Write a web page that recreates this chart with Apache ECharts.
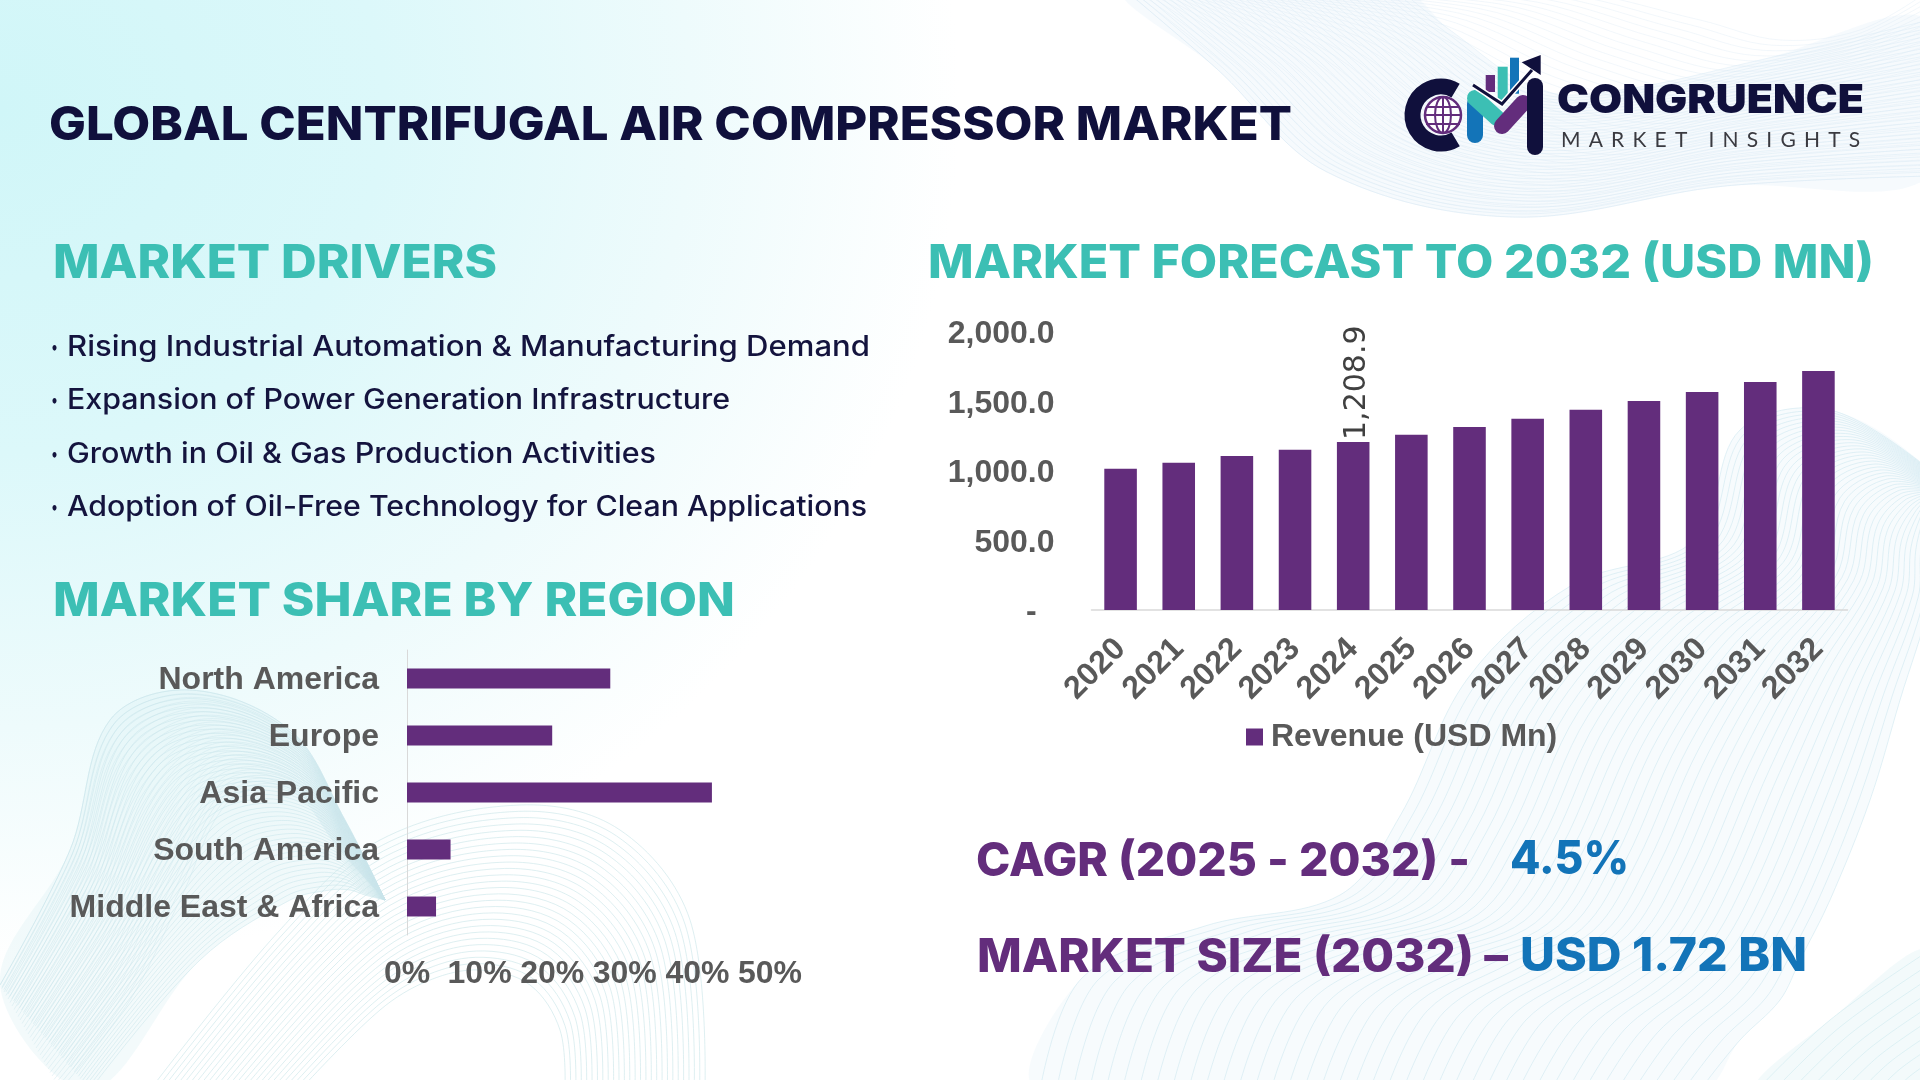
<!DOCTYPE html>
<html lang="en">
<head>
<meta charset="UTF-8" />
<title>Global Centrifugal Air Compressor Market</title>
<script src="https://cdn.jsdelivr.net/npm/echarts@6/dist/echarts.min.js"></script>
<style>
  html, body { margin: 0; padding: 0; width: 1920px; height: 1080px; overflow: hidden; background: #fff; }
  #bg { position: absolute; left: 0; top: 0; width: 1920px; height: 1080px;
    background: radial-gradient(ellipse 960px 860px at 0% 10%, #d0f6f8 0%, #dcf8fa 40%, #eefbfc 72%, rgba(255,255,255,0) 100%); }
  #main { position: absolute; left: 0; top: 0; width: 1920px; height: 1080px; }
  #logoSub { position: absolute; left: 1561px; top: 126px; font: 400 21px Lato, sans-serif; letter-spacing: 8.2px; color: #3a3a40; white-space: nowrap; }
</style>
</head>
<body>
<div id="bg"></div>
<div id="main"></div>
<div id="logoSub">MARKET INSIGHTS</div>
<script>
// chart data
var years = ["2020","2021","2022","2023","2024","2025","2026","2027","2028","2029","2030","2031","2032"];
var revenue = [1016, 1059, 1108, 1152, 1208.9, 1260, 1317, 1376, 1440, 1504, 1569, 1641, 1720];
var labelledYear = "2024";
var regions = ["North America","Europe","Asia Pacific","South America","Middle East & Africa"];
var regionShare = [28, 20, 42, 6, 4];
var drivers = [
  "Rising Industrial Automation & Manufacturing Demand",
  "Expansion of Power Generation Infrastructure",
  "Growth in Oil & Gas Production Activities",
  "Adoption of Oil-Free Technology for Clean Applications"
];

var PURPLE = "#632d7c", TEAL = "#3cbfb4", NAVY = "#10103c", BLUE = "#1374b8", GREY = "#595959";
var HEAD = "Inter";

var measure = document.createElement("canvas").getContext("2d");
var els = [];

// text squeezed or stretched so it runs from x to x2, y is the baseline
function fitText(str, x, x2, y, weight, size, color) {
  var font = weight + " " + size + "px " + HEAD;
  measure.font = font;
  els.push({
    type: "text", x: x, y: y + size * 0.2, scaleX: (x2 - x) / measure.measureText(str).width, z: 5,
    style: { text: str, font: font, fill: color, align: "left", verticalAlign: "bottom", lineHeight: size }
  });
}

// family of lines between two edges of the same length
function ribbon(a, b, n, fill, stroke, fillAlpha, lineAlpha) {
  if (fill) {
    els.push({ type: "polygon", z: 0, silent: true,
      shape: { points: a.concat(b.slice().reverse()), smooth: 0.35 },
      style: { fill: fill, opacity: fillAlpha } });
  }
  for (var i = 0; i <= n; i++) {
    var t = i / n;
    els.push({ type: "polyline", z: 1, silent: true,
      shape: { points: a.map(function (p, k) { return [p[0] + (b[k][0] - p[0]) * t, p[1] + (b[k][1] - p[1]) * t]; }), smooth: 0.35 },
      style: { stroke: stroke, lineWidth: 1, fill: "none", opacity: lineAlpha } });
  }
}

// top right
ribbon([[1125,-10],[1217,69],[1327,172],[1511,217],[1725,186],[1930,176]],
       [[1400,-10],[1450,30],[1540,90],[1620,90],[1760,60],[1930,20]], 40, "#e6f1f9", "#d3e5f2", 0.35, 0.4);
ribbon([[1125,-10],[1217,69],[1327,172],[1511,217],[1725,186],[1930,176]],
       [[1300,-10],[1560,-10],[1700,20],[1780,40],[1860,30],[1930,-10]], 34, null, "#d9e8f4", 0, 0.35);
// bottom left
ribbon([[0,985],[70,850],[110,720],[190,690],[290,730],[345,820],[385,900]],
       [[90,1090],[200,960],[290,900],[330,890],[350,890],[365,895],[385,900]], 46, "#d8edf2", "#c6e3ea", 0.3, 0.5);
ribbon([[0,985],[70,850],[110,720],[190,690],[290,730],[345,820],[385,900]],
       [[60,1090],[130,1000],[180,900],[230,800],[290,790],[340,850],[385,900]], 30, null, "#c9e5ec", 0, 0.45);
ribbon([[150,1090],[280,930],[380,840],[520,805],[620,830],[690,920],[705,1090]],
       [[300,1090],[380,1010],[430,980],[480,970],[530,985],[560,1030],[565,1090]], 26, null, "#cde7ea", 0, 0.65);
// bottom right
ribbon([[1040,1090],[1082,978],[1205,926],[1340,895],[1400,816],[1468,678],[1572,585],[1695,540],[1740,430],[1830,410],[1930,470]],
       [[1700,1090],[1740,1040],[1780,1000],[1800,960],[1830,900],[1870,800],[1900,700],[1930,600],[1930,560],[1930,530],[1930,500]],
       40, "#e8f4f8", "#cfe8f0", 0.35, 0.6);
ribbon([[1757,1090],[1830,1020],[1930,950]], [[1930,1090],[1930,1090],[1930,1090]], 10, "#d6eff3", "#c8e8ee", 0.3, 0.5);

// headings
fitText("GLOBAL CENTRIFUGAL AIR COMPRESSOR MARKET", 49, 1292, 140, 800, 47, NAVY);
fitText("MARKET DRIVERS", 53, 497, 278, 800, 46, TEAL);
fitText("MARKET FORECAST TO 2032 (USD MN)", 928, 1874, 278, 800, 46, TEAL);
fitText("MARKET SHARE BY REGION", 53, 735, 616, 800, 46, TEAL);
var driverEnds = [870, 730, 656, 867], driverBase = [356, 409, 463, 516];
drivers.forEach(function (d, i) {
  fitText("•", 51, 58, driverBase[i] - 3, 500, 18, "#14143e");
  fitText(d, 67, driverEnds[i], driverBase[i], 500, 28, "#14143e");
});
fitText("CAGR (2025 - 2032) -", 976, 1470, 876, 800, 46, PURPLE);
fitText("4.5%", 1510, 1629, 874, 800, 46, BLUE);
fitText("MARKET SIZE (2032) –", 977, 1508, 972, 800, 46, PURPLE);
fitText("USD 1.72 BN", 1520, 1807, 971, 800, 46, BLUE);
fitText("CONGRUENCE", 1557, 1864, 113, 900, 40, NAVY);

// logo
els.push({ type: "arc", z: 4, shape: { cx: 1441, cy: 115, r: 28.5, startAngle: 1.03, endAngle: 5.25, clockwise: true },
  style: { stroke: NAVY, lineWidth: 16, fill: "none" } });
els.push({ type: "circle", z: 4, shape: { cx: 1443, cy: 115, r: 18 }, style: { fill: "#fff", stroke: PURPLE, lineWidth: 2.5 } });
els.push({ type: "ellipse", z: 4, shape: { cx: 1443, cy: 115, rx: 8, ry: 18 }, style: { fill: "none", stroke: PURPLE, lineWidth: 2 } });
[[1426,107,1460,107],[1425,115,1461,115],[1426,124,1460,124],[1443,97,1443,133]].forEach(function (l) {
  els.push({ type: "line", z: 4, shape: { x1: l[0], y1: l[1], x2: l[2], y2: l[3] }, style: { stroke: PURPLE, lineWidth: 2 } });
});
[[1485.7,75,9.3,17,PURPLE],[1497.7,66.7,10,35,TEAL],[1510,57.7,9,36,BLUE]].forEach(function (b) {
  els.push({ type: "rect", z: 4, shape: { x: b[0], y: b[1], width: b[2], height: b[3] }, style: { fill: b[4] } });
});
[[1475,104,1475,135,"#1374b8"],[1475,98,1497,118,TEAL],[1502,126,1523,103,PURPLE],[1535,86,1535,147,NAVY]].forEach(function (s) {
  els.push({ type: "line", z: 4, shape: { x1: s[0], y1: s[1], x2: s[2], y2: s[3] }, style: { stroke: s[4], lineWidth: 16, lineCap: "round" } });
});
els.push({ type: "polyline", z: 4, shape: { points: [[1473,85],[1502,104],[1532,70]] }, style: { stroke: "#fff", lineWidth: 6, fill: "none" } });
els.push({ type: "polyline", z: 4, shape: { points: [[1473,85],[1502,104],[1532,70]] }, style: { stroke: NAVY, lineWidth: 3, fill: "none" } });
els.push({ type: "polygon", z: 4, shape: { points: [[1521.7,62.3],[1540.7,55],[1540.7,75]] }, style: { fill: NAVY } });

var axisText = { color: GREY, fontFamily: "Liberation Sans", fontWeight: "bold", fontSize: 32 };

var chart = echarts.init(document.getElementById("main"), null, { renderer: "canvas" });
chart.setOption({
  animation: false,
  graphic: { elements: els },
  legend: {
    z: 10, data: ["Revenue (USD Mn)"], left: 1241, top: 716, itemWidth: 17, itemHeight: 17, icon: "rect",
    textStyle: { color: GREY, fontFamily: "Liberation Sans", fontWeight: "bold", fontSize: 32, padding: [0, 0, 0, 3] }
  },
  grid: [
    { left: 1091.5, top: 332, width: 756, height: 278 },
    { left: 407, top: 650, width: 363, height: 285 }
  ],
  xAxis: [
    { z: 10, gridIndex: 0, type: "category", data: years,
      axisLine: { lineStyle: { color: "#d9d9d9", width: 1.5 } }, axisTick: { show: false },
      axisLabel: Object.assign({}, axisText, { rotate: 45, margin: 34, interval: 0 }) },
    { z: 10, gridIndex: 1, type: "value", min: 0, max: 50, interval: 10, splitLine: { show: false },
      axisLine: { show: false }, axisTick: { show: false },
      axisLabel: Object.assign({}, axisText, { margin: 23, hideOverlap: false, formatter: "{value}%" }) }
  ],
  yAxis: [
    { z: 10, gridIndex: 0, type: "value", min: 0, max: 2000, interval: 500, splitLine: { show: false },
      axisLine: { show: false }, axisTick: { show: false },
      axisLabel: Object.assign({}, axisText, { margin: 37, verticalAlign: "top", lineHeight: 5, formatter: function (v) {
        return v === 0 ? "-  " : v.toLocaleString("en-US", { minimumFractionDigits: 1 });
      } }) },
    { z: 10, gridIndex: 1, type: "category", inverse: true, data: regions,
      axisLine: { lineStyle: { color: "#d9d9d9", width: 1 } }, axisTick: { show: false },
      axisLabel: Object.assign({}, axisText, { margin: 28, interval: 0, verticalAlign: "top", lineHeight: 3 }) }
  ],
  series: [
    { z: 10, name: "Revenue (USD Mn)", type: "bar", xAxisIndex: 0, yAxisIndex: 0, barWidth: "56%",
      itemStyle: { color: PURPLE },
      data: revenue.map(function (v, i) {
        if (years[i] !== labelledYear) return v;
        return { value: v, label: { show: true } };
      }),
      label: { show: false, position: "top", distance: 1, rotate: 90, align: "left", verticalAlign: "middle", offset: [1, 4],
        color: "#404040", fontFamily: "DejaVu Sans", fontSize: 30,
        formatter: function (p) { return p.value.toLocaleString("en-US", { minimumFractionDigits: 1 }); } } },
    { z: 10, name: "Market share", type: "bar", xAxisIndex: 1, yAxisIndex: 1, barWidth: "35%",
      itemStyle: { color: PURPLE }, data: regionShare }
  ]
});
</script>
</body>
</html>
